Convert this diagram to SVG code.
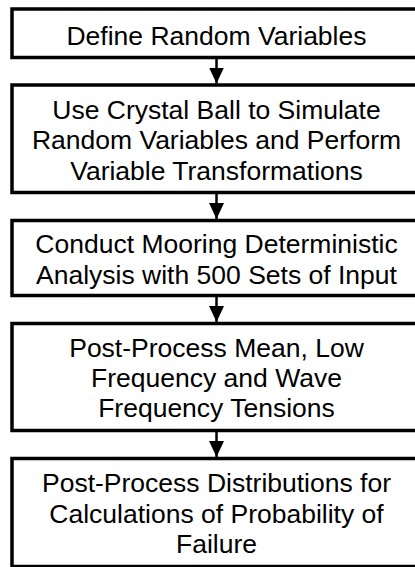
<svg xmlns="http://www.w3.org/2000/svg" width="415" height="567" viewBox="0 0 415 567">
<style>
.box{fill:#fff;stroke:#000;stroke-width:3.5}
.t{font-family:"Liberation Sans",Arial,sans-serif;font-size:26.5px;fill:#000;text-anchor:middle}
.c{stroke:#000;stroke-width:2.5;fill:none}
</style>
<defs>
<marker id="ah" markerWidth="16" markerHeight="15" refX="16" refY="7.5" orient="auto" markerUnits="userSpaceOnUse">
<path d="M0,0 L16,7.5 L0,15 Z" fill="#000"/>
</marker>
</defs>
<rect width="415" height="567" fill="#fff"/>
<g id="connectors">
<line class="c" x1="216.5" y1="59" x2="216.5" y2="83.5" marker-end="url(#ah)"/>
<line class="c" x1="216.5" y1="194" x2="216.5" y2="219" marker-end="url(#ah)"/>
<line class="c" x1="216.5" y1="297" x2="216.5" y2="322" marker-end="url(#ah)"/>
<line class="c" x1="216.5" y1="432" x2="216.5" y2="457" marker-end="url(#ah)"/>
</g>
<g id="n1">
<rect class="box" x="12" y="9" width="409" height="48.5"/>
<text class="t" x="216.5" y="45">Define Random Variables</text>
</g>
<g id="n2">
<rect class="box" x="12" y="85" width="409" height="107.5"/>
<text class="t" x="216.5" y="118.5">Use Crystal Ball to Simulate</text>
<text class="t" x="216.5" y="149">Random Variables and Perform</text>
<text class="t" x="216.5" y="179.5">Variable Transformations</text>
</g>
<g id="n3">
<rect class="box" x="12" y="220.5" width="409" height="75"/>
<text class="t" x="216.5" y="253">Conduct Mooring Deterministic</text>
<text class="t" x="216.5" y="284">Analysis with 500 Sets of Input</text>
</g>
<g id="n4">
<rect class="box" x="12" y="323.5" width="409" height="107"/>
<text class="t" x="216.5" y="356.5">Post-Process Mean, Low</text>
<text class="t" x="216.5" y="386.5">Frequency and Wave</text>
<text class="t" x="216.5" y="416.5">Frequency Tensions</text>
</g>
<g id="n5">
<rect class="box" x="12" y="458.5" width="409" height="108"/>
<text class="t" x="216.5" y="492">Post-Process Distributions for</text>
<text class="t" x="216.5" y="522.5">Calculations of Probability of</text>
<text class="t" x="216.5" y="553">Failure</text>
</g>
</svg>
